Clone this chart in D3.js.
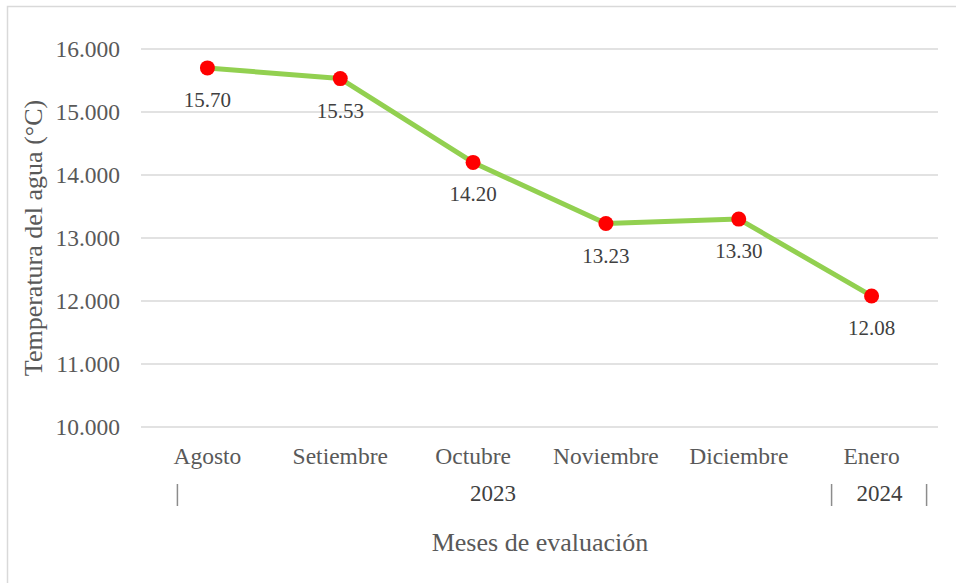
<!DOCTYPE html>
<html>
<head>
<meta charset="utf-8">
<script src="https://cdn.jsdelivr.net/npm/d3@7/dist/d3.min.js"></script>
<style>
  body { margin: 0; background: #fff; }
  text { font-family: "Liberation Serif", "Times New Roman", serif; }
</style>
</head>
<body>
<div class="graph"></div>
<script>
const width = 956;
const height = 583;
const plot = { left: 141, right: 938, top: 49, bottom: 427 };

// data
const months = ["Agosto", "Setiembre", "Octubre", "Noviembre", "Diciembre", "Enero"];
const temps = [15.70, 15.53, 14.20, 13.23, 13.30, 12.08];
const yTicks = [10, 11, 12, 13, 14, 15, 16];
const years = [
  { label: "2023", from: "Agosto", to: "Diciembre" },
  { label: "2024", from: "Enero", to: "Enero" }
];

let svg = d3.select('.graph').append('svg')
  .attr('width', width)
  .attr('height', height);

// outer chart border (only left / top visible)
svg.append('rect')
  .attr('x', 7.5).attr('y', 6.5)
  .attr('width', 1000).attr('height', 1000)
  .attr('fill', 'none')
  .attr('stroke', '#d9d9d9')
  .attr('stroke-width', 1.5);

let x = d3.scaleBand()
  .domain(months)
  .range([plot.left, plot.right]);

let y = d3.scaleLinear()
  .domain([10, 16])
  .range([plot.bottom, plot.top]);

// gridlines
svg.append('g')
  .selectAll('line')
  .data(yTicks)
  .enter().append('line')
  .attr('x1', plot.left)
  .attr('x2', plot.right)
  .attr('y1', (d) => y(d))
  .attr('y2', (d) => y(d))
  .attr('stroke', '#d9d9d9')
  .attr('stroke-width', 1.5);

// y tick labels
svg.append('g')
  .selectAll('text')
  .data(yTicks)
  .enter().append('text')
  .attr('x', 120)
  .attr('y', (d) => y(d) + 8)
  .attr('text-anchor', 'end')
  .attr('font-size', '23.5px')
  .attr('fill', '#595959')
  .text((d) => d3.format('.3f')(d));

// category labels
svg.append('g')
  .selectAll('text')
  .data(months)
  .enter().append('text')
  .attr('x', (d) => x(d) + x.bandwidth() / 2)
  .attr('y', 464)
  .attr('text-anchor', 'middle')
  .attr('font-size', '23.5px')
  .attr('fill', '#595959')
  .text((d) => d);

// year labels
let cx = (m) => x(m) + x.bandwidth() / 2;
svg.append('g')
  .selectAll('text')
  .data(years)
  .enter().append('text')
  .attr('x', (d) => (cx(d.from) + cx(d.to)) / 2 + (d.from === d.to ? 8 : 20))
  .attr('y', 501)
  .attr('text-anchor', 'middle')
  .attr('font-size', '23px')
  .attr('fill', '#404040')
  .text((d) => d.label);

// year separators
const seps = [cx("Agosto") - 30, cx("Enero") - 40, cx("Enero") + 55];
svg.append('g')
  .selectAll('line')
  .data(seps)
  .enter().append('line')
  .attr('x1', (d) => d).attr('x2', (d) => d)
  .attr('y1', 484).attr('y2', 506)
  .attr('stroke', '#8c8c8c')
  .attr('stroke-width', 1.5);

// line
let line = d3.line()
  .x((d, i) => cx(months[i]))
  .y((d) => y(d));

svg.append('path')
  .datum(temps)
  .attr('d', line)
  .attr('fill', 'none')
  .attr('stroke', '#92d050')
  .attr('stroke-width', 5)
  .attr('stroke-linejoin', 'round');

// markers
svg.append('g')
  .selectAll('circle')
  .data(temps)
  .enter().append('circle')
  .attr('cx', (d, i) => cx(months[i]))
  .attr('cy', (d) => y(d))
  .attr('r', 7.5)
  .attr('fill', '#ff0000');

// data labels
svg.append('g')
  .selectAll('text')
  .data(temps)
  .enter().append('text')
  .attr('x', (d, i) => cx(months[i]))
  .attr('y', (d) => y(d) + 39)
  .attr('text-anchor', 'middle')
  .attr('font-size', '21px')
  .attr('fill', '#404040')
  .text((d) => d.toFixed(2));

// axis titles
svg.append('text')
  .attr('x', 540)
  .attr('y', 551)
  .attr('text-anchor', 'middle')
  .attr('font-size', '26px')
  .attr('fill', '#595959')
  .text('Meses de evaluación');

svg.append('text')
  .attr('transform', 'translate(42, 238) rotate(-90)')
  .attr('text-anchor', 'middle')
  .attr('font-size', '26px')
  .attr('fill', '#595959')
  .text('Temperatura del agua (°C)');
</script>
</body>
</html>
